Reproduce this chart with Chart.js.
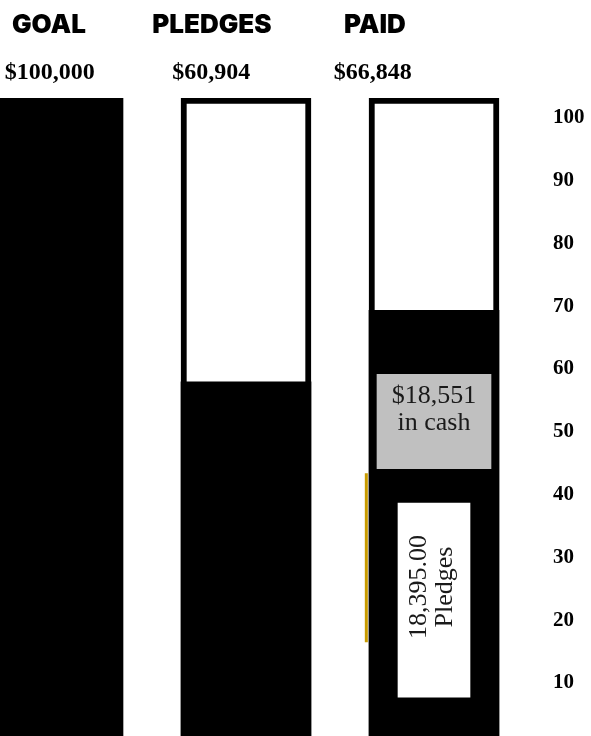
<!DOCTYPE html>
<html>
<head>
<meta charset="utf-8">
<script src="https://cdn.jsdelivr.net/npm/chart.js@4"></script>
<style>
  html, body { margin: 0; padding: 0; background: #ffffff; overflow: hidden; }
  #wrap { position: relative; width: 591px; height: 736px; }
  #thermo { position: absolute; left: -36px; top: 0; }
</style>
</head>
<body>
<div id="wrap">
  <canvas id="thermo" width="627" height="736"></canvas>
</div>
<script>
// chart values (scale 0 - 100, thousands of dollars)
const categories = ['GOAL', 'PLEDGES', 'PAID'];
const amountLabels = ['$100,000', '$60,904', '$66,848'];
const frameValues = [null, 100, 100];
const fillValues = [100, 55.5, 66.7];
const cashBox = [null, null, [41.9, 56.7]];
const pledgeBox = [null, null, [6.1, 36.5]];
const goldMark = [{ x: 1.64, y: 41.2 }, { x: 1.64, y: 14.7 }];
const tickValues = [10, 20, 30, 40, 50, 60, 70, 80, 90, 100];
const cashText = ['$18,551', 'in cash'];
const pledgeText = ['18,395.00', 'Pledges'];

const serif = "'Times New Roman', 'Liberation Serif', serif";

// writes the text inside the gray and white boxes of the PAID column
const boxText = {
    id: 'boxText',
    afterDatasetsDraw(chart) {
        const ctx = chart.ctx;
        const cash = chart.getDatasetMeta(2).data[2];
        const pledge = chart.getDatasetMeta(3).data[2];
        ctx.save();
        ctx.fillStyle = '#1a1a1a';
        ctx.font = '26px ' + serif;
        ctx.textAlign = 'center';
        ctx.textBaseline = 'middle';
        cashText.forEach((t, i) => {
            ctx.fillText(t, cash.x, cash.y + 22 + i * 27);
        });
        const cy = (pledge.y + pledge.base) / 2 - 13;
        ctx.translate(pledge.x - 2, cy);
        ctx.rotate(-Math.PI / 2);
        ctx.font = '26px ' + serif;
        pledgeText.forEach((t, i) => {
            ctx.fillText(t, 0, (i - 0.5) * 26);
        });
        ctx.restore();
    }
};

// header rows sit a little left of the bars, so they get their own linear axes
function headerAxis(names, weight, min, max, height, padding, font) {
    return {
        type: 'linear',
        position: 'top',
        weight: weight,
        offset: false,
        min: min,
        max: max,
        grid: { display: false, drawTicks: false, offset: false },
        border: { display: false },
        afterBuildTicks(scale) {
            scale.ticks = names.map((n, i) => ({ value: i }));
        },
        ticks: {
            color: '#000000',
            padding: padding,
            maxRotation: 0,
            autoSkip: false,
            callback: (v) => names[v],
            font: font
        },
        afterFit(scale) {
            scale.height = height;
            scale.paddingLeft = 0;
            scale.paddingRight = 0;
        }
    };
}

const ctx = document.getElementById('thermo').getContext('2d');

new Chart(ctx, {
    type: 'bar',
    data: {
        labels: categories,
        datasets: [
            {
                label: 'frame',
                data: frameValues,
                backgroundColor: '#ffffff',
                borderColor: '#000000',
                borderWidth: 6,
                borderSkipped: false,
                barThickness: 130,
                grouped: false,
                order: 5
            },
            {
                label: 'raised',
                data: fillValues,
                backgroundColor: '#000000',
                borderWidth: 0,
                barThickness: 130,
                grouped: false,
                order: 4
            },
            {
                label: 'cash',
                data: cashBox,
                backgroundColor: '#c0c0c0',
                borderWidth: 0,
                barThickness: 114,
                grouped: false,
                order: 3
            },
            {
                label: 'pledges',
                data: pledgeBox,
                backgroundColor: '#ffffff',
                borderWidth: 0,
                barThickness: 72,
                grouped: false,
                order: 2
            },
            {
                type: 'line',
                label: 'marker',
                data: goldMark,
                xAxisID: 'x3',
                borderColor: '#c89b00',
                borderWidth: 3,
                pointRadius: 0,
                borderCapStyle: 'butt',
                order: 1
            }
        ]
    },
    options: {
        responsive: false,
        animation: false,
        layout: { padding: 0 },
        plugins: {
            legend: { display: false },
            tooltip: { enabled: false },
            title: { display: false }
        },
        scales: {
            x: {
                display: false,
                offset: true
            },
            names: headerAxis(categories, 2, -0.521, 2.939, 48, 7,
                { family: "Inter, Roboto, 'Liberation Sans', sans-serif", size: 26, weight: '900' }),
            amounts: headerAxis(amountLabels, 1, -0.53, 2.96, 50, 11,
                { family: serif, size: 24, weight: 'bold' }),
            x3: {
                type: 'linear',
                display: false,
                offset: false,
                min: -0.5,
                max: 2.5
            },
            y: {
                display: false,
                min: 0,
                max: 100
            },
            y2: {
                position: 'right',
                min: 1.55,
                max: 103.13,
                grid: { display: false, drawTicks: true, tickLength: 25 },
                border: { display: false },
                afterBuildTicks(scale) {
                    scale.ticks = tickValues.map(v => ({ value: v }));
                },
                ticks: {
                    color: '#000000',
                    padding: 0,
                    font: { family: serif, size: 21, weight: 'bold' }
                },
                afterFit(scale) {
                    scale.width = 63;
                    scale.paddingTop = 0;
                    scale.paddingBottom = 0;
                }
            }
        }
    },
    plugins: [boxText]
});
</script>
</body>
</html>
